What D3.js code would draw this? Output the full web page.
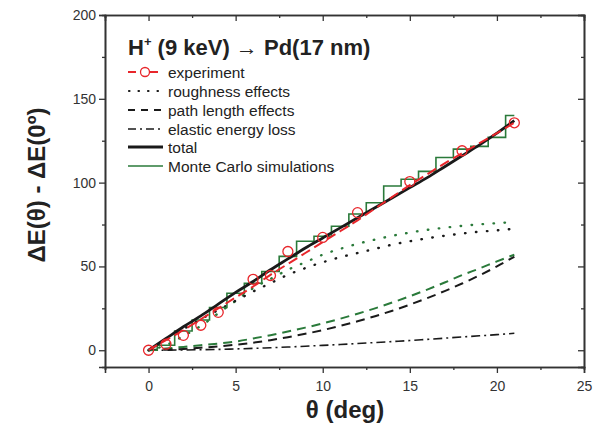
<!DOCTYPE html>
<html><head><meta charset="utf-8">
<script src="https://cdn.jsdelivr.net/npm/d3@7"></script>
<style>
html,body{margin:0;padding:0;background:#fff;}
svg{display:block;font-family:"Liberation Sans",Arial,sans-serif;}
</style></head>
<body><svg id="c" width="604" height="437"></svg>
<script>
const theta = [0,1,2,3,4,5,6,7,8,9,10,11,12,13,14,15,16,17,18,19,20,21];
const expTheta = [0,1,2,3,4,6,7,8,10,12,15,18,21];
const expValues = [0,3.6,8.9,14.9,22.6,42.3,44.6,58.9,67.3,82.1,100.6,119,135.7];
const expLine = [0,6,12,18.5,25,31.5,38,45,51.5,58,64.5,71,77.5,84.5,91.5,98.5,105,111.5,117.5,123.5,129.5,135.7];
const total = [0,7,14,20.5,27.5,34.5,41,48,54.5,61,67,73,79,85,91,97,103,109.5,116,122.5,129.5,137];
const roughness = [0,6,12.5,18.5,24,29.5,35,40,45,49,52.5,55.5,58,60.5,63,65,66.8,68.3,69.6,70.7,71.5,72.5];
const roughnessMC = [0,3,8.5,14.5,22,29.5,37,42.5,48,52.5,57,60.5,63.5,66,68.3,70.2,71.8,73.1,74.2,75.1,75.8,76.5];
const pathLength = [0,0.3,0.8,1.5,2.3,3.3,4.5,6,7.8,9.8,12,14.5,17.3,20.3,23.6,27.2,31.1,35.3,39.8,44.7,50,55.8];
const pathLengthMC = [0,1,2,3,4,5.2,7,9,11.2,13.5,16,18.8,21.8,25,28.5,32.2,36.2,40.4,44.8,48.8,53,57];
const elastic = [0,0.05,0.15,0.3,0.5,0.8,1.1,1.5,1.9,2.4,2.9,3.4,4.0,4.6,5.2,5.8,6.5,7.2,7.9,8.6,9.3,10.1];
const monteCarlo = [0,3,11.5,18,25.5,34,40,47,56,65,68,74,81.3,88,98,102,106.7,115,120,121.6,127,140];
const xMajor = [0,5,10,15,20,25];
const xMinor = [-2.5,2.5,7.5,12.5,17.5,22.5];
const yMajor = [0,50,100,150,200];
const yMinor = [25,75,125,175];
const legendLabels = ["experiment","roughness effects","path length effects","elastic energy loss","total","Monte Carlo simulations"];

const RED = "#e8262b", GREEN = "#2a7a3a", BLACK = "#1a1a1a", AX = "#333";
const svg = d3.select("#c");
const x = d3.scaleLinear().domain([-2.5,25]).range([105,584]);
const y = d3.scaleLinear().domain([-10,200]).range([367,15]);

// axes
const gB = svg.append("g").attr("transform","translate(0,367)");
gB.call(d3.axisBottom(x).tickValues(xMajor).tickSize(6).tickPadding(8).tickFormat(d3.format("d")));
gB.append("g").call(d3.axisBottom(x).tickValues(xMinor).tickSize(3).tickFormat(""));
const gL = svg.append("g").attr("transform","translate(105,0)");
gL.call(d3.axisLeft(y).tickValues(yMajor).tickSize(6).tickPadding(3).tickFormat(d3.format("d")));
gL.append("g").call(d3.axisLeft(y).tickValues(yMinor).tickSize(3).tickFormat(""));
const gT = svg.append("g").attr("transform","translate(0,15)");
gT.call(d3.axisTop(x).tickValues(xMajor).tickSize(-6).tickFormat(""));
gT.append("g").call(d3.axisTop(x).tickValues(xMinor).tickSize(-3).tickFormat(""));
const gR = svg.append("g").attr("transform","translate(584,0)");
gR.call(d3.axisRight(y).tickValues(yMajor).tickSize(-6).tickFormat(""));
gR.append("g").call(d3.axisRight(y).tickValues(yMinor).tickSize(-3).tickFormat(""));
svg.selectAll(".domain").attr("stroke",AX).attr("stroke-width",1.6);
svg.selectAll(".tick line").attr("stroke",AX).attr("stroke-width",1.3);
svg.selectAll(".tick text").attr("fill","#333").style("font-size","14px").style("font-family","'Liberation Sans',Arial,sans-serif");

// lines
const plot = svg.append("g");
function draw(data, color, w, dash, cap, curve){
  const l = d3.line().x((d,i)=>x(theta[i])).y(d=>y(d)).curve(curve||d3.curveMonotoneX);
  plot.append("path").attr("d", l(data)).attr("fill","none").attr("stroke",color)
    .attr("stroke-width",w).attr("stroke-dasharray",dash||null).attr("stroke-linecap", cap||"butt");
}
draw(elastic, BLACK, 1.6, "9,4,2,4");
draw(pathLengthMC, GREEN, 2, "9,6");
draw(pathLength, BLACK, 2, "9,6");
draw(roughnessMC, GREEN, 2.4, "0.5,10.5", "round");
draw(roughness, BLACK, 2.4, "0.5,10.5", "round");
draw(monteCarlo, GREEN, 1.6, null, "butt", d3.curveStep);
draw(total, BLACK, 2.8, null);
draw(expLine, RED, 2, "10,5");
plot.selectAll("circle.e").data(expValues).join("circle").attr("class","e")
  .attr("cx",(d,i)=>x(expTheta[i])).attr("cy",d=>y(d)).attr("r",5)
  .attr("fill","none").attr("stroke",RED).attr("stroke-width",1.3);

// legend
const lg = svg.append("g");
const title = lg.append("text").attr("x",128).attr("y",55).attr("fill","#222")
  .style("font-size","22px").style("font-weight","bold");
title.append("tspan").text("H");
title.append("tspan").text("+").attr("dy",-9).style("font-size","13px");
title.append("tspan").text(" (9 keV) ").attr("dy",9);
title.append("tspan").text("\u2192").style("font-weight","normal");
title.append("tspan").text(" Pd(17 nm)");
const ly = [72,91,110,129,147,166];
const styles = [
  {c:RED,w:2,d:null},{c:BLACK,w:2.2,d:"0.5,9"},{c:BLACK,w:2,d:"7,6"},
  {c:BLACK,w:1.6,d:"8,4,2,4"},{c:BLACK,w:3,d:null},{c:GREEN,w:1.4,d:null}];
legendLabels.forEach((t,i)=>{
  const s = styles[i];
  if(i===0){
    lg.append("line").attr("x1",128).attr("x2",136).attr("y1",ly[i]).attr("y2",ly[i]).attr("stroke",RED).attr("stroke-width",2);
    lg.append("line").attr("x1",150).attr("x2",158).attr("y1",ly[i]).attr("y2",ly[i]).attr("stroke",RED).attr("stroke-width",2);
    lg.append("circle").attr("cx",145).attr("cy",ly[i]).attr("r",4.5).attr("fill","none").attr("stroke",RED).attr("stroke-width",1.3);
  } else {
    lg.append("line").attr("x1",i===1?129:128).attr("x2",163).attr("y1",ly[i]).attr("y2",ly[i])
      .attr("stroke",s.c).attr("stroke-width",s.w).attr("stroke-dasharray",s.d)
      .attr("stroke-linecap", i===1?"round":"butt");
  }
  lg.append("text").attr("x",168).attr("y",ly[i]+5.5).text(t).attr("fill","#222").style("font-size","15.5px");
});

// axis titles
svg.append("text").attr("x",345).attr("y",418).attr("text-anchor","middle").attr("fill","#222")
  .style("font-size","24px").style("font-weight","bold").text("\u03b8 (deg)");
svg.append("text").attr("transform","translate(45,185) rotate(-90)").attr("text-anchor","middle").attr("fill","#222")
  .style("font-size","24px").style("font-weight","bold").text("\u0394E(\u03b8) - \u0394E(0\u00ba)");
</script></body></html>
